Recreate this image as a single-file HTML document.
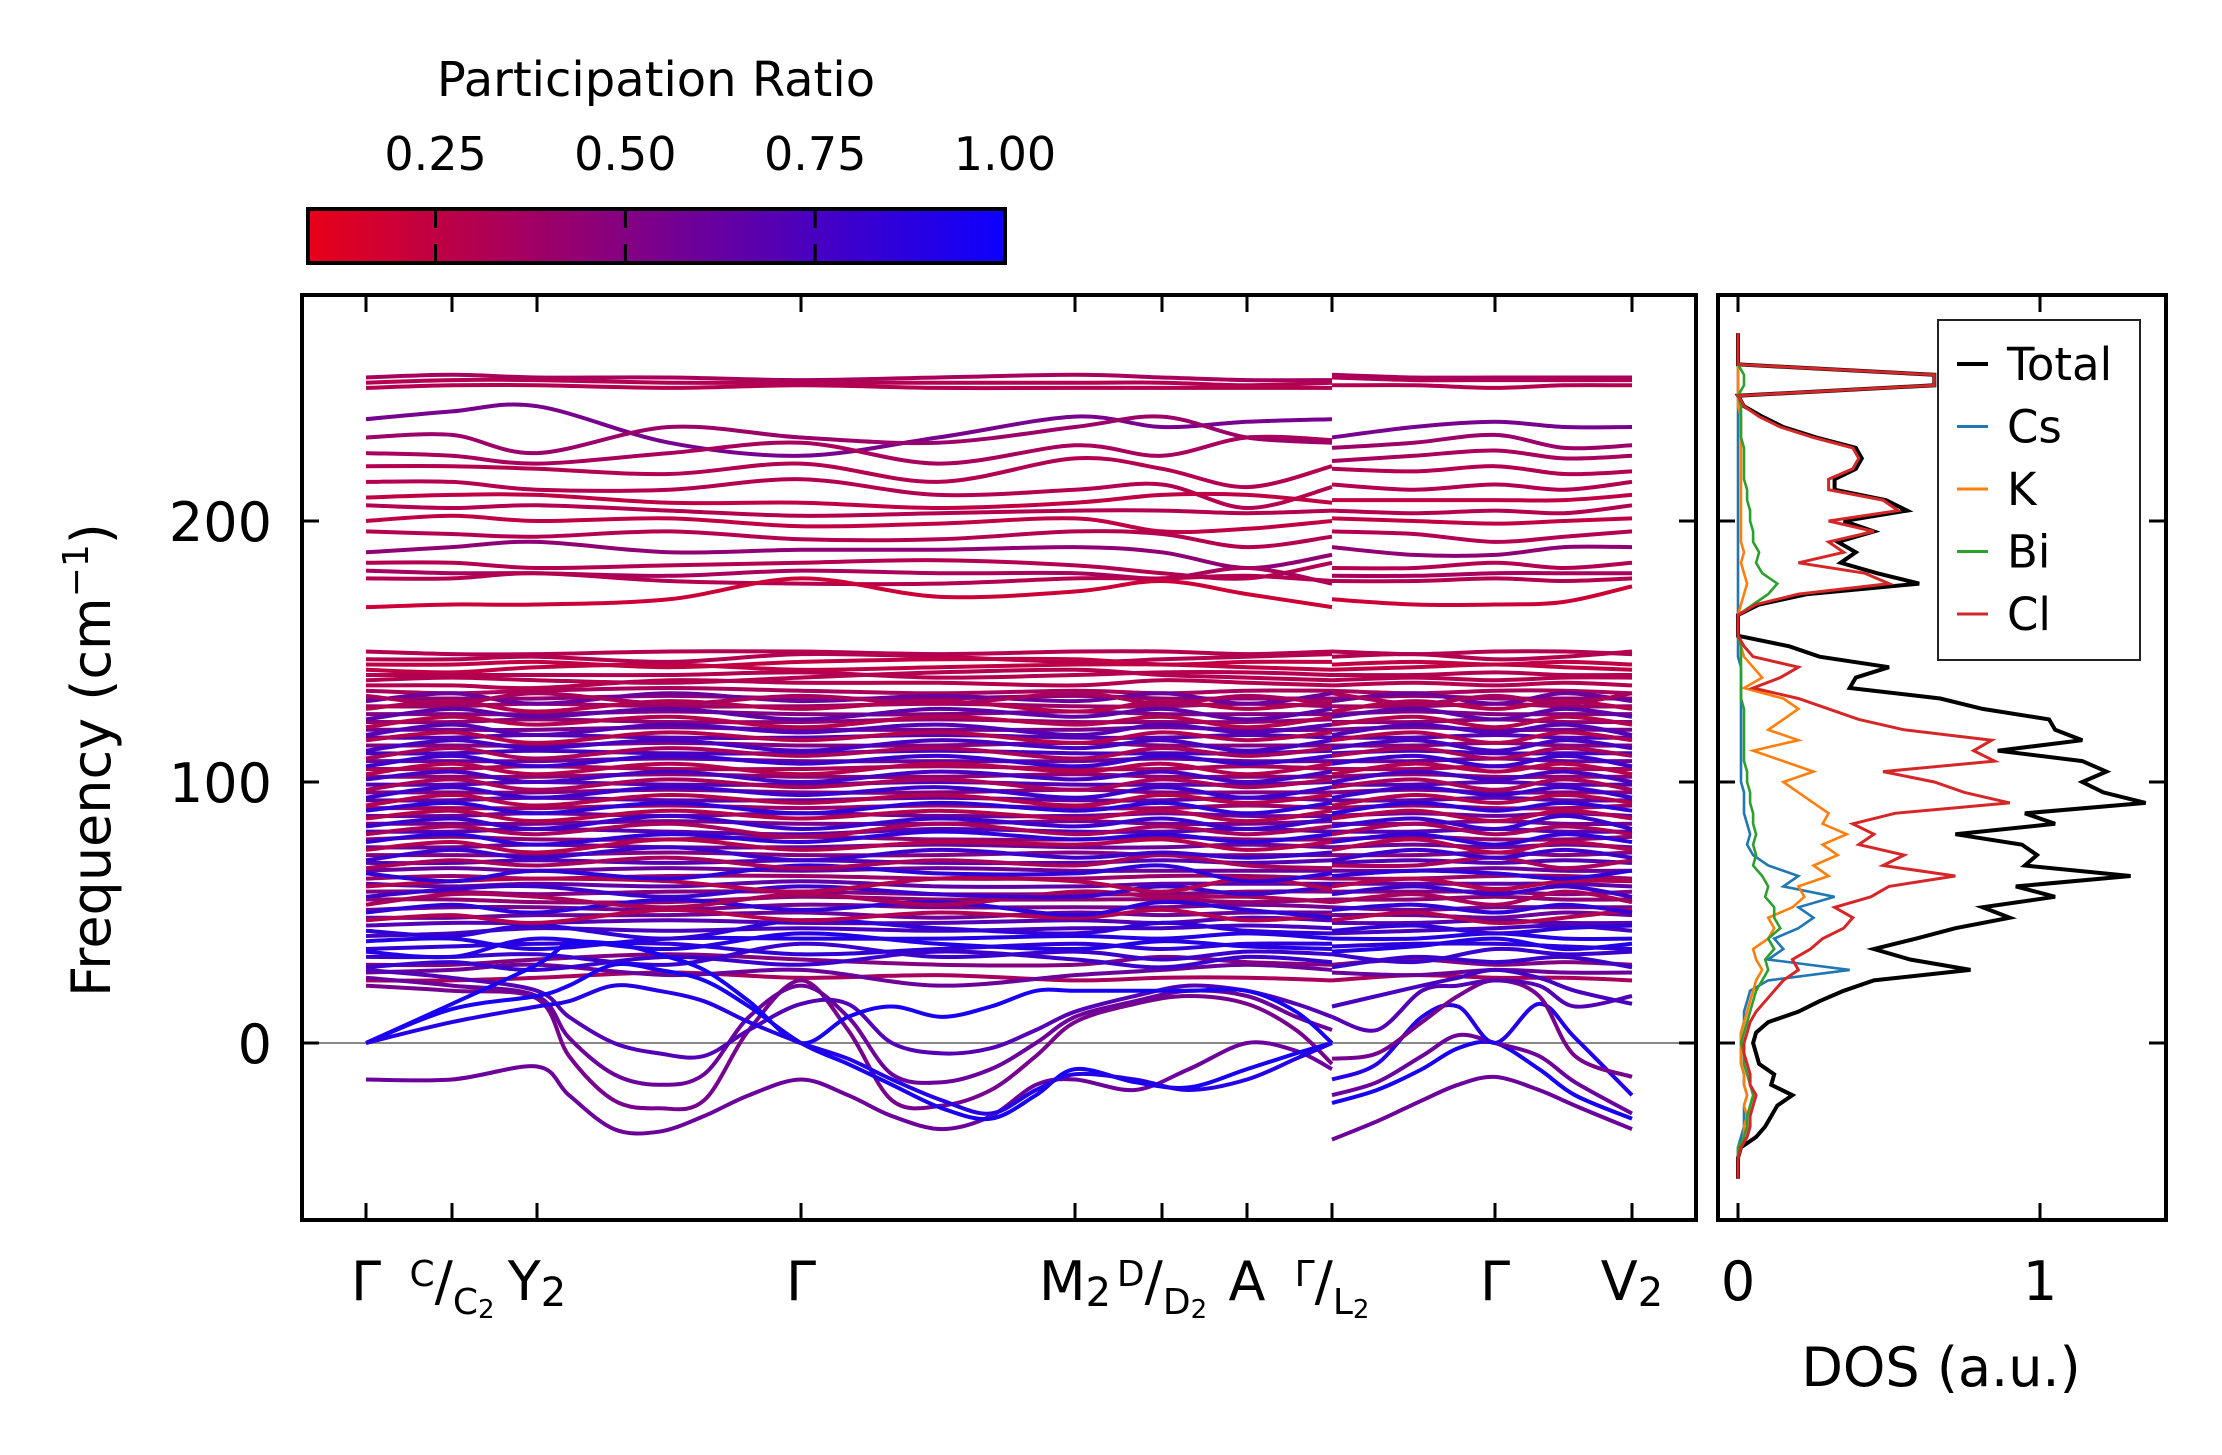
<!DOCTYPE html>
<html><head><meta charset="utf-8"><title>Phonon bands and DOS</title>
<style>html,body{margin:0;padding:0;background:#fff}svg{display:block}text{font-family:"DejaVu Sans","Liberation Sans",sans-serif}</style>
</head><body>
<svg id="fig" width="2222" height="1455" viewBox="0 0 2222 1455" xmlns="http://www.w3.org/2000/svg">
<defs>
<linearGradient id="cmap" x1="0" x2="1" y1="0" y2="0"><stop offset="0" stop-color="rgb(232,0,25)"/><stop offset="1" stop-color="rgb(12,0,255)"/></linearGradient>
<clipPath id="clipMain"><rect x="302" y="295" width="1394" height="925"/></clipPath>
<clipPath id="clipDos"><rect x="1718" y="295" width="448" height="925"/></clipPath>
</defs>
<g>
<text x="656" y="96" font-size="48" text-anchor="middle">Participation Ratio</text>
<rect x="308" y="209" width="697" height="54" fill="url(#cmap)" stroke="#000" stroke-width="4"/>
<g id="cbTicks"></g>
</g>
<g id="mainAx">
<line x1="302" x2="1696" y1="1043" y2="1043" stroke="#888" stroke-width="2"/>
<g id="bands" clip-path="url(#clipMain)"></g>
<rect x="302" y="295" width="1394" height="925" fill="none" stroke="#000" stroke-width="4"/>
<g id="mainTicks"></g>
<text transform="translate(110,760) rotate(-90)" font-size="54" text-anchor="middle">Frequency (cm<tspan font-size="36" dy="-22">−1</tspan><tspan dy="22">)</tspan></text>
</g>
<g id="dosAx">
<g id="dosLines" clip-path="url(#clipDos)"></g>
<rect x="1718" y="295" width="448" height="925" fill="none" stroke="#000" stroke-width="4"/>
<g id="dosTicks"></g>
<text x="1941" y="1386" font-size="54" text-anchor="middle">DOS (a.u.)</text>
<g>
<rect x="1938" y="320" width="202" height="340" fill="#fff" stroke="#222" stroke-width="2"/>
<g id="legendEntries"></g>
</g>
</g>
</svg>
<script>
const NS="http://www.w3.org/2000/svg";
const kTicks=[0,0.86,1.71,4.35,7.09,7.96,8.81,9.66,11.29,12.66];
const yTicks=[0,100,200];
const cbTicks=[0.25,0.5,0.75,1.0];
const cbTickLabels=["0.25","0.50","0.75","1.00"];
const dosTicks=[0,1];
const kCoarse1=[0,0.86,1.71,3.03,4.35,5.72,7.09,7.96,8.81,9.66];
const kCoarse2=[9.66,10.48,11.29,11.98,12.66];
const kFine1=[0,0.86,1.71,2.03,2.48,2.93,3.38,3.83,4.35,4.82,5.26,5.76,6.25,6.70,7.09,7.69,8.23,8.81,9.30,9.66];
const kFine2=[9.66,10.11,10.56,10.92,11.29,11.73,12.09,12.66];
const upperBands=[
[253,254,254,253,253,253,253,253,252,253,255,254,254,254,254],
[255,256,255,255,254,255,256,255,254,254,256,255,255,255,255],
[251,252,252,251,252,251,251,251,251,251,252,252,251,252,252],
[239,242,244,230,225,232,240,236,238,239,232,236,238,236,236],
[232,233,226,236,232,230,236,240,232,230,228,230,233,228,229],
[226,225,222,226,230,222,229,225,232,231,223,225,227,224,225],
[221,221,220,218,222,215,224,220,213,221,220,219,221,218,219],
[215,215,212,212,216,210,212,214,205,213,214,212,214,212,215],
[209,210,210,207,207,205,207,210,210,207,208,208,208,208,210],
[206,205,206,204,202,203,204,204,203,204,204,203,204,203,206],
[200,202,200,201,198,199,201,196,197,200,201,200,199,200,201],
[196,195,194,196,193,193,196,195,190,194,196,195,192,194,196],
[188,190,192,188,189,189,190,188,182,187,190,187,187,190,190],
[184,184,182,183,184,185,183,180,178,184,182,182,184,182,184],
[181,180,180,179,181,180,180,178,182,176,179,179,180,180,180],
[178,178,180,177,176,176,178,178,179,177,177,177,178,177,178],
[167,168,168,170,178,171,173,177,172,167,170,168,168,169,175]];
const upperPR=[0.3,0.35,0.3,0.55,0.4,0.35,0.3,0.3,0.25,0.3,0.25,0.3,0.45,0.3,0.35,0.3,0.2];
const midBands=[
[24,24,25,27,25,26,24,25,25,24,24,26,25,25,24],
[27,28,30,26,28,22,26,28,30,28,27,26,28,27,27],
[30,30,32,34,32,30,30,33,31,30,30,32,30,31,30],
[33,33,34,30,38,33,35,32,35,34,34,31,36,34,35],
[36,37,38,38,34,36,38,36,38,38,37,38,38,37,36],
[39,40,36,40,40,40,41,40,42,40,40,40,42,40,40],
[41,42,44,43,44,43,44,44,45,44,42,43,44,45,43],
[45,46,46,47,46,46,47,46,48,47,46,46,47,46,46],
[48,48,49,49,50,48,50,49,50,50,49,49,48,50,49],
[51,52,52,51,53,52,52,52,53,52,52,51,52,52,52],
[55,55,54,54,56,55,55,55,54,55,55,55,56,55,55],
[58,58,57,58,58,57,57,57,58,58,58,58,58,57,58],
[61,60,61,60,62,60,60,61,61,61,61,61,61,61,60],
[63,64,63,64,64,63,63,64,64,63,63,63,64,64,63],
[66,67,66,67,66,67,66,66,66,66,66,66,67,66,66],
[69,69,70,69,70,69,69,70,69,70,69,70,69,70,69],
[72,72,72,73,72,72,73,72,72,72,72,72,73,72,73],
[75,75,76,75,75,76,75,75,76,75,75,76,75,76,75],
[78,79,78,78,79,78,78,79,78,78,78,79,78,78,79],
[81,81,82,81,80,82,81,81,82,81,81,81,82,81,81],
[84,84,84,85,84,84,85,84,84,85,84,84,85,84,84],
[87,87,88,87,88,87,87,88,87,87,87,88,87,88,87],
[90,90,90,91,90,91,90,90,91,90,90,91,90,90,91],
[93,93,94,93,93,94,93,93,94,93,93,93,94,93,93],
[96,96,96,97,96,96,97,96,96,96,96,97,96,96,96],
[99,99,100,99,99,100,99,99,99,100,99,99,100,99,99],
[102,102,102,103,102,102,103,102,102,102,102,103,102,102,102],
[105,105,106,105,105,106,105,105,106,105,105,105,106,105,105],
[108,108,108,109,108,108,108,109,108,108,108,108,109,108,108],
[111,111,112,111,111,112,111,111,111,112,111,112,111,111,111],
[114,114,114,115,114,114,115,114,114,114,114,114,115,114,114],
[117,117,118,117,117,118,117,117,118,117,117,117,118,117,117],
[120,120,120,121,120,120,120,121,120,120,120,121,120,120,120],
[123,123,124,123,123,124,123,123,123,124,123,123,124,123,123],
[126,126,126,127,126,126,127,126,126,126,126,127,126,126,126],
[129,129,130,129,129,130,129,129,130,129,129,129,130,129,129],
[132,132,132,133,132,132,133,132,132,132,132,133,132,132,132],
[135,134,135,136,135,134,135,134,135,135,135,134,135,135,134],
[139,140,139,138,140,142,143,141,140,139,139,140,139,140,140],
[143,142,144,145,143,144,145,145,144,143,143,144,145,144,143],
[147,147,148,146,149,148,146,147,148,149,148,149,147,148,150]];
const midPR=[0.35,0.6,0.5,0.8,0.85,0.9,0.75,0.7,0.6,0.55,0.45,0.5,0.65,0.4,0.6,0.7,0.5,0.6,0.45,0.7,0.55,0.6,0.4,0.65,0.5,0.7,0.45,0.35,0.6,0.75,0.5,0.7,0.55,0.45,0.5,0.4,0.45,0.35,0.3,0.25,0.3];
const midBandsB=[
[29,31,28,33,30,35,32,29,33,31,29,33,31,33,29],
[35,33,40,36,42,38,36,39,37,36,35,37,40,36,38],
[43,41,45,40,47,44,42,46,43,42,43,45,42,44,45],
[47,49,46,51,47,50,48,51,47,49,47,50,46,48,51],
[50,53,50,55,51,54,49,54,51,48,51,53,50,53,50],
[53,57,56,52,57,53,58,56,56,54,54,57,53,58,54],
[56,59,60,56,60,57,56,60,57,60,57,60,57,60,56],
[60,62,63,62,58,63,62,58,63,59,60,63,59,62,62],
[65,62,66,63,68,65,65,68,62,65,64,66,65,63,66],
[67,70,68,71,67,70,68,72,68,67,68,68,71,67,70],
[70,74,71,75,70,74,71,73,71,73,70,74,71,74,71],
[74,77,73,78,74,77,76,78,74,77,74,78,73,77,74],
[77,80,76,80,77,81,78,80,77,80,77,80,76,80,77],
[80,83,80,84,79,84,80,83,80,83,80,84,80,83,80],
[83,86,82,87,82,86,83,86,82,86,83,86,82,87,82],
[86,89,85,89,86,89,86,89,85,89,86,89,85,89,86],
[89,92,88,92,88,92,89,92,88,92,88,92,89,92,89],
[91,95,91,95,92,95,91,95,92,95,91,95,92,95,92],
[94,98,94,98,95,98,94,98,94,98,94,98,95,98,94],
[97,101,97,101,98,101,97,101,98,101,98,101,97,101,97],
[101,104,100,104,100,104,101,104,100,104,100,104,101,104,100],
[103,107,103,107,103,107,104,107,103,107,103,107,104,107,103],
[106,110,106,110,107,110,106,110,107,110,107,110,106,110,106],
[109,113,109,113,110,113,109,113,110,113,110,113,109,113,110],
[112,116,113,116,112,116,113,116,112,116,113,116,112,116,113],
[116,119,115,119,116,119,115,119,116,119,116,119,115,119,116],
[118,122,118,122,119,122,118,122,119,122,118,122,119,122,118],
[121,125,122,125,121,125,122,125,121,125,122,125,121,125,122],
[124,128,125,128,124,128,125,128,124,128,125,128,124,128,125],
[128,131,127,131,128,131,127,131,128,131,127,131,128,131,128],
[131,134,130,134,131,133,131,134,130,134,131,134,130,134,131],
[133,130,134,130,133,130,134,130,133,130,134,130,133,130,134],
[137,137,136,139,138,138,137,139,138,137,137,138,137,138,137],
[141,141,141,141,142,140,141,142,142,141,141,141,142,141,141],
[145,145,146,144,146,147,147,145,146,146,145,146,145,146,145],
[150,149,149,150,150,149,150,150,149,150,150,149,150,150,149]];
const midPRB=[0.8,0.9,0.85,0.3,0.85,0.35,0.8,0.3,0.85,0.35,0.8,0.3,0.85,0.35,0.8,0.3,0.85,0.3,0.8,0.35,0.75,0.3,0.8,0.35,0.75,0.3,0.7,0.3,0.65,0.3,0.6,0.35,0.3,0.3,0.25,0.3];
const lowBands1=[
[-14,-14,-9,-20,-33,-34,-28,-20,-14,-20,-28,-33,-28,-16,-14,-18,-10,0,-3,-10],
[22,20,17,-5,-22,-25,-22,5,24,5,-22,-24,-18,-5,8,15,18,15,5,-8],
[25,22,18,2,-12,-16,-12,10,22,10,-12,-15,-10,0,10,16,20,18,10,5],
[28,25,20,10,0,-4,-5,5,15,15,0,-4,-2,5,12,18,22,20,15,10],
[0,13,18,22,30,28,24,14,0,-8,-16,-25,-29,-20,-10,-15,-17,-10,-4,0],
[0,15,30,38,38,34,28,16,0,10,14,10,14,20,20,20,20,20,12,0],
[0,8,14,16,22,20,16,8,0,-6,-14,-22,-27,-18,-12,-14,-18,-14,-6,0]];
const lowPR1=[0.6,0.55,0.6,0.7,0.95,0.95,0.9];
const lowBands2=[
[-37,-30,-22,-16,-13,-18,-24,-33],
[-23,-18,-10,-2,0,-10,-20,-29],
[-20,-15,-5,3,0,-5,-15,-27],
[-14,-8,10,14,0,15,2,-20],
[-6,-4,8,18,24,18,-5,-13],
[10,5,20,22,24,22,14,18],
[14,18,22,25,28,25,20,15]];
const lowPR2=[0.6,0.95,0.6,0.9,0.55,0.7,0.75];
const dosFreq=[-52,-48,-44,-40,-36,-32,-28,-24,-20,-16,-12,-8,-4,0,4,8,12,16,20,24,28,32,36,40,44,48,52,56,60,64,68,72,76,80,84,88,92,96,100,104,108,112,116,120,124,128,132,136,140,144,148,152,156,160,164,168,172,176,180,184,188,192,196,200,204,208,212,216,220,224,228,232,236,240,244,248,252,256,260,264,268,272];
const dosTotal=[0,0,0,0.01,0.06,0.09,0.11,0.13,0.18,0.11,0.12,0.07,0.06,0.05,0.06,0.1,0.2,0.27,0.35,0.45,0.77,0.57,0.45,0.59,0.72,0.9,0.81,1.05,0.92,1.3,0.95,0.99,0.94,0.72,1.05,0.95,1.35,1.21,1.14,1.22,1.14,0.86,1.14,1.05,1.03,0.81,0.67,0.37,0.39,0.5,0.27,0.17,0,0,0,0.07,0.23,0.6,0.46,0.34,0.39,0.33,0.45,0.35,0.56,0.49,0.32,0.32,0.39,0.41,0.39,0.26,0.15,0.08,0.02,0,0.65,0.65,0,0,0,0];
const dosCs=[0,0,0,0,0.01,0.02,0.02,0.02,0.03,0.02,0.02,0.01,0.01,0.01,0.01,0.02,0.02,0.03,0.04,0.1,0.37,0.1,0.15,0.12,0.2,0.25,0.2,0.32,0.15,0.2,0.1,0.05,0.03,0.04,0.03,0.02,0.02,0.02,0.01,0.01,0.01,0.01,0.01,0.01,0.01,0.01,0.01,0.01,0.01,0.01,0,0,0,0,0,0,0,0,0,0,0,0,0,0,0,0,0,0,0,0,0,0,0,0,0,0,0,0,0,0,0,0];
const dosK=[0,0,0,0.01,0.02,0.02,0.03,0.02,0.03,0.02,0.02,0.01,0.01,0.01,0.01,0.02,0.03,0.04,0.05,0.06,0.08,0.06,0.05,0.1,0.12,0.1,0.18,0.22,0.2,0.3,0.25,0.33,0.28,0.36,0.28,0.3,0.25,0.2,0.15,0.25,0.15,0.05,0.2,0.1,0.15,0.2,0.15,0.02,0.08,0.05,0.02,0.01,0,0,0,0.01,0.02,0.03,0.02,0.01,0.02,0.01,0.01,0.01,0.01,0.01,0.01,0.01,0.01,0.01,0.01,0.01,0.01,0.01,0,0,0,0,0,0,0,0];
const dosBi=[0,0,0,0,0.02,0.03,0.03,0.04,0.05,0.04,0.03,0.02,0.02,0.01,0.02,0.03,0.04,0.05,0.06,0.08,0.1,0.09,0.12,0.1,0.14,0.12,0.12,0.09,0.1,0.08,0.05,0.06,0.05,0.06,0.05,0.05,0.04,0.04,0.03,0.03,0.02,0.02,0.02,0.02,0.02,0.02,0.01,0.01,0.01,0.01,0.01,0.01,0,0,0,0.05,0.1,0.13,0.08,0.06,0.07,0.05,0.05,0.04,0.04,0.03,0.03,0.02,0.02,0.02,0.02,0.01,0.01,0.01,0.01,0,0.02,0.02,0,0,0,0];
const dosCl=[0,0,0,0.01,0.03,0.04,0.04,0.05,0.06,0.04,0.04,0.03,0.02,0.02,0.03,0.04,0.06,0.09,0.12,0.15,0.2,0.18,0.24,0.28,0.35,0.38,0.32,0.44,0.5,0.72,0.48,0.55,0.4,0.45,0.38,0.52,0.9,0.75,0.65,0.48,0.85,0.78,0.84,0.55,0.4,0.3,0.2,0.05,0.14,0.2,0.05,0.02,0,0,0,0.06,0.2,0.5,0.42,0.2,0.35,0.3,0.45,0.3,0.53,0.48,0.3,0.3,0.38,0.4,0.38,0.25,0.14,0.07,0.02,0,0.65,0.65,0,0,0,0];
const seriesNames=["Total","Cs","K","Bi","Cl"];

const xK=k=>366+k*100;
const yF=f=>1043-f*2.61;
const xD=d=>1738+d*302;
const xCb=v=>308+(v-0.082)/(1-0.082)*697;
function prColor(p){const t=Math.max(0,Math.min(1,(p-0.082)/(1-0.082)));
 return `rgb(${Math.round(232+(12-232)*t)},0,${Math.round(25+(255-25)*t)})`;}
function smooth(xs,ys){const n=xs.length;let d=`M${xs[0].toFixed(1)},${ys[0].toFixed(1)}`;
 for(let i=0;i<n-1;i++){const i0=Math.max(0,i-1),i3=Math.min(n-1,i+2);
  const c1x=xs[i]+(xs[i+1]-xs[i0])/6,c1y=ys[i]+(ys[i+1]-ys[i0])/6;
  const c2x=xs[i+1]-(xs[i3]-xs[i])/6,c2y=ys[i+1]-(ys[i3]-ys[i])/6;
  d+=` C${c1x.toFixed(1)},${c1y.toFixed(1)} ${c2x.toFixed(1)},${c2y.toFixed(1)} ${xs[i+1].toFixed(1)},${ys[i+1].toFixed(1)}`;}
 return d;}
function mk(tag,attrs,parent){const e=document.createElementNS(NS,tag);for(const a in attrs)e.setAttribute(a,attrs[a]);parent.appendChild(e);return e;}

const bandsG=document.getElementById('bands');
function drawBand(kg,vals,pr,name){
 const p=mk('path',{d:smooth(kg.map(xK),vals.map(yF)),fill:'none',stroke:prColor(pr),'stroke-width':4},bandsG);
 
 }
midBands.forEach((b,i)=>{drawBand(kCoarse1,b.slice(0,10),midPR[i],'mid-band-'+i);drawBand(kCoarse2,b.slice(10),midPR[i],'mid-band-'+i+'-seg2');});
midBandsB.forEach((b,i)=>{drawBand(kCoarse1,b.slice(0,10),midPRB[i],'mid-band-b-'+i);drawBand(kCoarse2,b.slice(10),midPRB[i],'mid-band-b-'+i+'-seg2');});
upperBands.forEach((b,i)=>{drawBand(kCoarse1,b.slice(0,10),upperPR[i],'upper-band-'+i);drawBand(kCoarse2,b.slice(10),upperPR[i],'upper-band-'+i+'-seg2');});
lowBands1.forEach((b,i)=>drawBand(kFine1,b,lowPR1[i],'low-band-'+i));
lowBands2.forEach((b,i)=>drawBand(kFine2,b,lowPR2[i],'low-band-seg2-'+i));

const mt=document.getElementById('mainTicks');
kTicks.forEach(k=>{const x=xK(k);
 const t1=mk('line',{x1:x,x2:x,y1:1220,y2:1203,stroke:'#000','stroke-width':3},mt);
 
 
 const t2=mk('line',{x1:x,x2:x,y1:295,y2:312,stroke:'#000','stroke-width':3},mt);
 
 });
yTicks.forEach(v=>{const y=yF(v);
 const a=mk('line',{x1:302,x2:319,y1:y,y2:y,stroke:'#000','stroke-width':3},mt);
 
 
 const b=mk('line',{x1:1696,x2:1679,y1:y,y2:y,stroke:'#000','stroke-width':3},mt);
 
 
 const t=mk('text',{x:272,y:y+20,'font-size':54,'text-anchor':'end'},mt);t.textContent=String(v);
 
 });
const kLabelSpecs=[
 [0,'<tspan>Γ</tspan>'],
 [1,'<tspan font-size="36" dy="-14">C</tspan><tspan dy="14">/</tspan><tspan font-size="36" dy="14">C</tspan><tspan font-size="26" dy="4">2</tspan>'],
 [2,'<tspan>Y</tspan><tspan font-size="40" dy="6">2</tspan>'],
 [3,'<tspan>Γ</tspan>'],
 [4,'<tspan>M</tspan><tspan font-size="40" dy="6">2</tspan>'],
 [5,'<tspan font-size="36" dy="-14">D</tspan><tspan dy="14">/</tspan><tspan font-size="36" dy="14">D</tspan><tspan font-size="26" dy="4">2</tspan>'],
 [6,'<tspan>A</tspan>'],
 [7,'<tspan font-size="36" dy="-14">Γ</tspan><tspan dy="14">/</tspan><tspan font-size="36" dy="14">L</tspan><tspan font-size="26" dy="4">2</tspan>'],
 [8,'<tspan>Γ</tspan>'],
 [9,'<tspan>V</tspan><tspan font-size="40" dy="6">2</tspan>']];
kLabelSpecs.forEach(([i,html])=>{const t=mk('text',{x:xK(kTicks[i]),y:1300,'font-size':54,'text-anchor':'middle'},mt);t.innerHTML=html;
 
 });

const cb=document.getElementById('cbTicks');
cbTicks.forEach((v,i)=>{const x=xCb(v);
 if(v<1){const a=mk('line',{x1:x,x2:x,y1:211,y2:228,stroke:'#000','stroke-width':3},cb);
 
 
 const b=mk('line',{x1:x,x2:x,y1:244,y2:261,stroke:'#000','stroke-width':3},cb);
 
 }
 const t=mk('text',{x:x,y:170,'font-size':46,'text-anchor':'middle'},cb);t.textContent=cbTickLabels[i];
 
 });

const dl=document.getElementById('dosLines');
const dosSeries=[dosTotal,dosCs,dosK,dosBi,dosCl];
const dosColors=['#000','#1f77b4','#ff7f0e','#2ca02c','#d62728'];
const dosWidths=[4,2.6,2.6,2.6,3];
dosSeries.forEach((s,j)=>{const pts=s.map((v,i)=>`${xD(v).toFixed(1)},${yF(dosFreq[i]).toFixed(1)}`).join(' ');
 const p=mk('polyline',{points:pts,fill:'none',stroke:dosColors[j],'stroke-width':dosWidths[j]},dl);
 
 });
const dt=document.getElementById('dosTicks');
dosTicks.forEach(v=>{const x=xD(v);
 const a=mk('line',{x1:x,x2:x,y1:1220,y2:1203,stroke:'#000','stroke-width':3},dt);
 
 
 const b=mk('line',{x1:x,x2:x,y1:295,y2:312,stroke:'#000','stroke-width':3},dt);
 
 
 const t=mk('text',{x:x,y:1300,'font-size':54,'text-anchor':'middle'},dt);t.textContent=String(v);
 
 });
yTicks.forEach(v=>{const y=yF(v);
 const a=mk('line',{x1:1718,x2:1735,y1:y,y2:y,stroke:'#000','stroke-width':3},dt);
 
 
 const b=mk('line',{x1:2166,x2:2149,y1:y,y2:y,stroke:'#000','stroke-width':3},dt);
 
 });
const lg=document.getElementById('legendEntries');
seriesNames.forEach((n,j)=>{const y=364+j*62.5;
 const l=mk('line',{x1:1957,x2:1988,y1:y,y2:y,stroke:dosColors[j],'stroke-width':j===0?4:3},lg);
 
 
 const t=mk('text',{x:2007,y:y+16,'font-size':45},lg);t.textContent=n;
 
 });
</script>
</body></html>
